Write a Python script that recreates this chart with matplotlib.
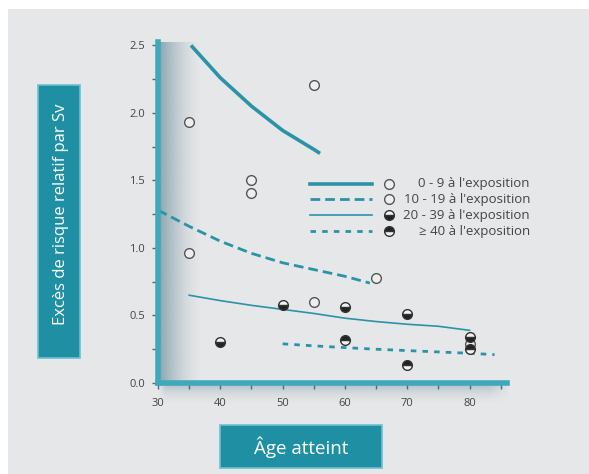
import numpy as np
import matplotlib
matplotlib.use("Agg")
import matplotlib.pyplot as plt
from matplotlib.patches import Rectangle
from matplotlib.colors import to_rgb

plt.rcParams['font.family'] = ['Open Sans', 'DejaVu Sans']

# ---- data ----
legend_labels = ["0 - 9 à l'exposition", "10 - 19 à l'exposition",
                 "20 - 39 à l'exposition", "\u2265 40 à l'exposition"]

curve_0_9_x = [35.3, 40, 45, 50, 55, 56]
curve_0_9_y = [2.50, 2.26, 2.05, 1.87, 1.73, 1.70]
curve_10_19_x = [30, 35, 40, 45, 50, 55, 60, 64]
curve_10_19_y = [1.28, 1.16, 1.05, 0.96, 0.89, 0.84, 0.79, 0.74]
curve_20_39_x = [35, 40, 45, 50, 55, 60, 65, 70, 75, 80]
curve_20_39_y = [0.65, 0.61, 0.575, 0.545, 0.515, 0.48, 0.455, 0.435, 0.42, 0.39]
curve_40_x = [50, 55, 60, 65, 70, 75, 80, 84]
curve_40_y = [0.29, 0.275, 0.262, 0.25, 0.24, 0.23, 0.22, 0.21]

pts_0_9_x = [35, 45, 55]
pts_0_9_y = [1.93, 1.50, 2.21]
pts_10_19_x = [35, 45, 55, 65, 80]
pts_10_19_y = [0.96, 1.41, 0.60, 0.78, 0.29]
pts_20_39_x = [40, 50, 60, 70, 80]
pts_20_39_y = [0.30, 0.58, 0.56, 0.51, 0.34]
pts_40_x = [60, 70, 80]
pts_40_y = [0.32, 0.13, 0.25]

x_ticks = [30, 40, 50, 60, 70, 80]
y_ticks = [0.0, 0.5, 1.0, 1.5, 2.0, 2.5]
y_tick_labels = ["0.0", "0.5", "1.0", "1.5", "2.0", "2.5"]
x_label = "Âge atteint"
y_label = "Excès de risque relatif par Sv"

# ---- styling ----
W, H = 589, 474
teal = "#2b93a6"
axis_teal = "#3fa8bb"
bg = "#e6e7e9"
box_col = "#1f90a4"

fig = plt.figure(figsize=(W / 100, H / 100), dpi=100)
fig.patch.set_facecolor("white")
fig.patches.append(Rectangle((8 / W, 0), 1, 1 - 9 / H, transform=fig.transFigure,
                             facecolor=bg, edgecolor="none", zorder=-5))

# axes position in pixels
L, R, T, B = 158, 507, 42, 383
ax = fig.add_axes([L / W, 1 - B / H, (R - L) / W, (B - T) / H])
ax.set_zorder(2)
ax.set_facecolor("none")

# shading next to the y axis
grad = np.linspace(1, 0, 200) ** 1.6
rgba = np.zeros((1, 200, 4))
rgba[..., :3] = to_rgb("#658c97")
rgba[..., 3] = grad * 0.75
ax.imshow(rgba, extent=(30, 37, 0, 2.525), aspect="auto", zorder=0.5,
          interpolation="bilinear")
# shading below the x axis (soft drop shadow)
ny, nx = 60, 300
yy = np.linspace(0, 1, ny)[:, None]
xx = np.linspace(0, 1, nx)[None, :]
alpha = (1 - yy) ** 1.8 * np.clip(np.minimum(xx / 0.02, (1 - xx) / 0.06), 0, 1)
rgba2 = np.zeros((ny, nx, 4))
rgba2[..., :3] = to_rgb("#86a3ab")
rgba2[..., 3] = alpha * 0.6
ax.imshow(rgba2, extent=(30, 86.5, -0.16, 0), aspect="auto", zorder=0.5,
          interpolation="bilinear", clip_on=False)
ax.set_ylim(0, 2.525)
ax.set_xlim(30, 86)

# spines
for s in ["top", "right"]:
    ax.spines[s].set_visible(False)
for s in ["left", "bottom"]:
    ax.spines[s].set_color(axis_teal)
    ax.spines[s].set_linewidth(4)
    ax.spines[s].set_zorder(2.2)

ax.set_xticks(x_ticks)
ax.set_xticks([35, 45, 55, 65, 75, 85], minor=True)
ax.set_yticks(y_ticks)
ax.set_yticklabels(y_tick_labels)
ax.set_yticks([0.25, 0.75, 1.25, 1.75, 2.25], minor=True)
ax.tick_params(axis="both", which="both", direction="out", length=4.5, width=1,
               color="#4d6b73", labelsize=8, labelcolor="#444444")
ax.tick_params(axis="x", which="major", pad=6)
ax.tick_params(axis="y", which="major", pad=5)

# curves
ax.plot(curve_0_9_x, curve_0_9_y, color=teal, lw=2.6, solid_capstyle="butt", zorder=2)
ax.plot(curve_10_19_x, curve_10_19_y, color=teal, lw=2.0, dashes=(3.5, 1.8), zorder=2)
ax.plot(curve_20_39_x, curve_20_39_y, color=teal, lw=1.2, zorder=2)
ax.plot(curve_40_x, curve_40_y, color=teal, lw=2.0, dashes=(2, 2.2), zorder=2)

ms = 7
open_kw = dict(ls="none", marker="o", ms=ms, mfc="#eeeeee", mec="#555555", mew=1.0, zorder=4)
half_b = dict(ls="none", marker="o", ms=ms, fillstyle="bottom", mfc="#222222",
              mfcalt="#f2f2f2", mec="#333333", mew=1.0, zorder=4)
half_t = dict(ls="none", marker="o", ms=ms, fillstyle="top", mfc="#222222",
              mfcalt="#f2f2f2", mec="#333333", mew=1.0, zorder=4)
ax.plot(pts_0_9_x, pts_0_9_y, **open_kw)
ax.plot(pts_10_19_x, pts_10_19_y, **open_kw)
ax.plot(pts_20_39_x, pts_20_39_y, **half_b)
ax.plot(pts_40_x, pts_40_y, **half_t)

# manual legend (axes fraction coordinates)
line_styles = [dict(lw=2.6), dict(lw=2.0, dashes=(3.5, 1.8)),
               dict(lw=1.2), dict(lw=2.0, dashes=(2, 2.2))]
marker_styles = [open_kw, open_kw, half_b, half_t]
rows_px = [184, 199, 215, 231]
for lab, lst, mst, py in zip(legend_labels, line_styles, marker_styles, rows_px):
    yf = (B - py) / (B - T)
    ax.plot([(310 - L) / (R - L), (372 - L) / (R - L)], [yf, yf], color=teal,
            transform=ax.transAxes, clip_on=False, **lst)
    ax.plot([(389 - L) / (R - L)], [yf], transform=ax.transAxes, clip_on=False, **mst)
    ax.text((530 - L) / (R - L), yf, lab, transform=ax.transAxes, ha="right",
            va="center", fontsize=9.5, color="#444444", clip_on=False)

# label boxes
fig.patches.append(Rectangle((38 / W, 1 - 358 / H), 42 / W, 273 / H,
                             transform=fig.transFigure, facecolor=box_col,
                             edgecolor="#6cc0cf", lw=1.2, zorder=1))
fig.text(61 / W, 1 - 214 / H, y_label, rotation=90, ha="center", va="center",
         color="white", fontsize=12, zorder=3)
fig.patches.append(Rectangle((220 / W, 1 - 468 / H), 162 / W, 43 / H,
                             transform=fig.transFigure, facecolor=box_col,
                             edgecolor="#6cc0cf", lw=1.2, zorder=1))
fig.text(301 / W, 1 - 447 / H, x_label, ha="center", va="center",
         color="white", fontsize=13.5, zorder=3)

fig.savefig("out.png", dpi=100, facecolor=fig.get_facecolor())
